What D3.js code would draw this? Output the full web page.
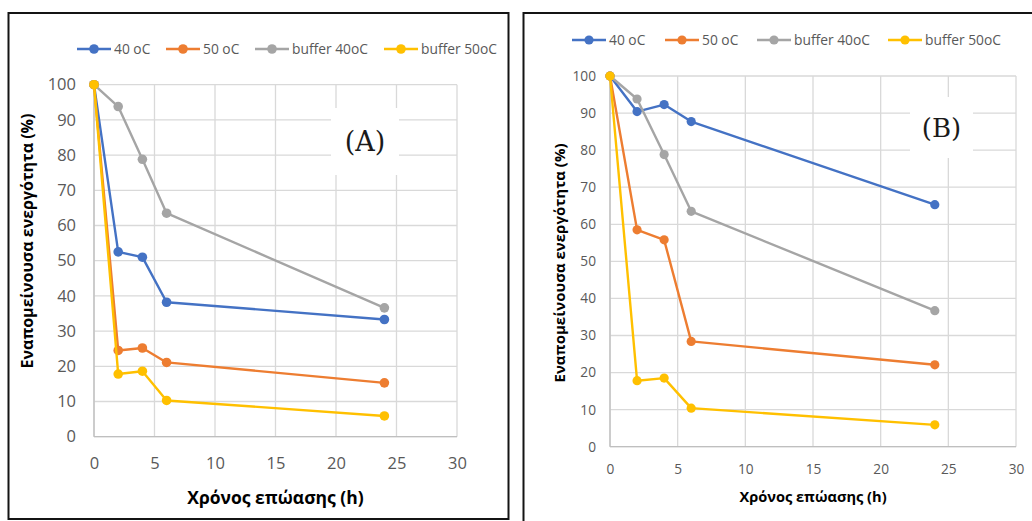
<!DOCTYPE html>
<html>
<head>
<meta charset="utf-8">
<script src="https://cdn.jsdelivr.net/npm/d3@7"></script>
<style>
  html, body { margin: 0; padding: 0; background: #fff; }
  svg { display: block; }
  text { font-family: "Open Sans", "Noto Sans", sans-serif; }
</style>
</head>
<body>
<svg id="chart" width="1032" height="521"></svg>
<script>
// Incubation times (h)
const hours = [0, 2, 4, 6, 24];

// Series names shown in the legends
const seriesNames = ["40 oC", "50 oC", "buffer 40oC", "buffer 50oC"];
const seriesColors = ["#4472C4", "#ED7D31", "#A5A5A5", "#FFC000"];

// Panel (A): remaining activity (%)
const panelA_40 = [100, 52.5, 51.0, 38.2, 33.3];
const panelA_50 = [100, 24.5, 25.2, 21.1, 15.3];
const panelA_buffer40 = [100, 93.8, 78.8, 63.5, 36.6];
const panelA_buffer50 = [100, 17.8, 18.6, 10.3, 5.9];

// Panel (B): remaining activity (%)
const panelB_40 = [100, 90.4, 92.3, 87.7, 65.3];
const panelB_50 = [100, 58.5, 55.8, 28.4, 22.1];
const panelB_buffer40 = [100, 93.8, 78.8, 63.5, 36.7];
const panelB_buffer50 = [100, 17.8, 18.5, 10.4, 5.9];

// Axis ticks
const xTicks = [0, 5, 10, 15, 20, 25, 30];
const yTicks = [0, 10, 20, 30, 40, 50, 60, 70, 80, 90, 100];

const xTitle = "Χρόνος επώασης (h)";
const yTitle = "Εναπομείνουσα ενεργότητα (%)";

const svg = d3.select("#chart");

function drawPanel(p) {
  const g = svg.append("g");

  // frame around the panel
  g.append("rect")
    .attr("x", p.frame[0]).attr("y", p.frame[1])
    .attr("width", p.frame[2]).attr("height", p.frame[3])
    .attr("fill", "#fff").attr("stroke", "#141414").attr("stroke-width", 2);

  const x = d3.scaleLinear().domain([0, 30]).range(p.xRange);
  const y = d3.scaleLinear().domain([0, 100]).range(p.yRange);

  // gridlines
  const grid = g.append("g").attr("stroke", "#d9d9d9").attr("stroke-width", 1.3);
  grid.selectAll("line.h").data(yTicks).join("line")
    .attr("x1", x(0)).attr("x2", x(30))
    .attr("y1", d => y(d)).attr("y2", d => y(d));
  grid.selectAll("line.v").data(xTicks).join("line")
    .attr("y1", y(0)).attr("y2", y(100))
    .attr("x1", d => x(d)).attr("x2", d => x(d));

  // axis lines
  g.append("line").attr("x1", x(0)).attr("x2", x(30)).attr("y1", y(0)).attr("y2", y(0))
    .attr("stroke", "#bfbfbf").attr("stroke-width", 1.3);
  g.append("line").attr("x1", x(0)).attr("x2", x(0)).attr("y1", y(0)).attr("y2", y(100))
    .attr("stroke", "#bfbfbf").attr("stroke-width", 1.3);

  // white box holding the panel letter
  g.append("rect")
    .attr("x", p.tagBox[0]).attr("y", p.tagBox[1])
    .attr("width", p.tagBox[2]).attr("height", p.tagBox[3])
    .attr("fill", "#fff");
  g.append("text")
    .attr("x", p.tagBox[0] + p.tagBox[2] / 2)
    .attr("y", p.tagBox[1] + p.tagBox[3] / 2)
    .attr("dy", "0.35em")
    .attr("text-anchor", "middle")
    .style("font-family", "'DejaVu Serif', 'Liberation Serif', serif")
    .style("font-size", p.tagSize + "px")
    .attr("fill", "#1a1a1a")
    .text(p.tag);

  // tick labels
  const yAxis = d3.axisLeft(y).tickValues(yTicks).tickSize(0).tickPadding(0);
  const ya = g.append("g").attr("transform", `translate(${p.yLabelX},0)`).call(yAxis);
  ya.select(".domain").remove();
  ya.selectAll("text").attr("fill", "#595959")
    .style("font-size", p.tickSize + "px").style("font-family", "'Open Sans', sans-serif");

  const xAxis = d3.axisBottom(x).tickValues(xTicks).tickSize(0).tickPadding(0);
  const xa = g.append("g").attr("transform", `translate(0,${p.xLabelY})`).call(xAxis);
  xa.select(".domain").remove();
  xa.selectAll("text").attr("fill", "#595959").attr("dy", "0.35em").attr("y", 0)
    .style("font-size", p.tickSize + "px").style("font-family", "'Open Sans', sans-serif");

  // axis titles
  g.append("text")
    .attr("x", (p.xRange[0] + p.xRange[1]) / 2).attr("y", p.xTitleY)
    .attr("dy", "0.35em").attr("text-anchor", "middle")
    .style("font-weight", "bold").style("font-size", p.xTitleSize + "px")
    .attr("fill", "#000").text(xTitle);
  g.append("text")
    .attr("transform", `translate(${p.yTitle[0]},${p.yTitle[1]}) rotate(-90)`)
    .attr("dy", "0.35em").attr("text-anchor", "middle")
    .style("font-weight", "bold").style("font-size", p.yTitleSize + "px")
    .attr("fill", "#000").text(yTitle);

  // series lines and markers
  const line = d3.line().x((d, i) => x(hours[i])).y(d => y(d));
  p.series.forEach((vals, k) => {
    const s = g.append("g");
    s.append("path").datum(vals).attr("d", line)
      .attr("fill", "none").attr("stroke", seriesColors[k])
      .attr("stroke-width", 2.4).attr("stroke-linejoin", "round");
    s.selectAll("circle").data(vals).join("circle")
      .attr("cx", (d, i) => x(hours[i])).attr("cy", d => y(d))
      .attr("r", p.markerR).attr("fill", seriesColors[k]);
  });

  // legend
  const lg = g.append("g");
  seriesNames.forEach((name, k) => {
    const lx = p.legendX[k];
    lg.append("line").attr("x1", lx).attr("x2", lx + 34)
      .attr("y1", p.legendY).attr("y2", p.legendY)
      .attr("stroke", seriesColors[k]).attr("stroke-width", 2.4);
    lg.append("circle").attr("cx", lx + 17).attr("cy", p.legendY)
      .attr("r", p.markerR).attr("fill", seriesColors[k]);
    lg.append("text").attr("x", lx + 37).attr("y", p.legendY).attr("dy", "0.35em")
      .style("font-size", p.legendSize + "px").attr("fill", "#595959").text(name);
  });
}

drawPanel({
  frame: [8.5, 13, 500, 506],
  xRange: [94, 457], yRange: [436.7, 84.7],
  tag: "(A)", tagBox: [331, 108, 68, 67], tagSize: 27,
  yLabelX: 76, xLabelY: 463, xTitleY: 498, yTitle: [27, 241],
  tickSize: 16.5, xTitleSize: 17.5, yTitleSize: 16, legendSize: 13.8, markerR: 4.8,
  legendX: [77, 166, 255, 384], legendY: 49,
  series: [panelA_40, panelA_50, panelA_buffer40, panelA_buffer50]
});

drawPanel({
  frame: [523.5, 13, 520, 520],
  xRange: [610, 1016], yRange: [446.7, 76],
  tag: "(B)", tagBox: [910, 97, 63, 61], tagSize: 26,
  yLabelX: 596, xLabelY: 469, xTitleY: 497, yTitle: [560, 263],
  tickSize: 13.7, xTitleSize: 14.6, yTitleSize: 15, legendSize: 13.8, markerR: 4.6,
  legendX: [572, 665, 757, 888], legendY: 40,
  series: [panelB_40, panelB_50, panelB_buffer40, panelB_buffer50]
});
</script>
</body>
</html>
